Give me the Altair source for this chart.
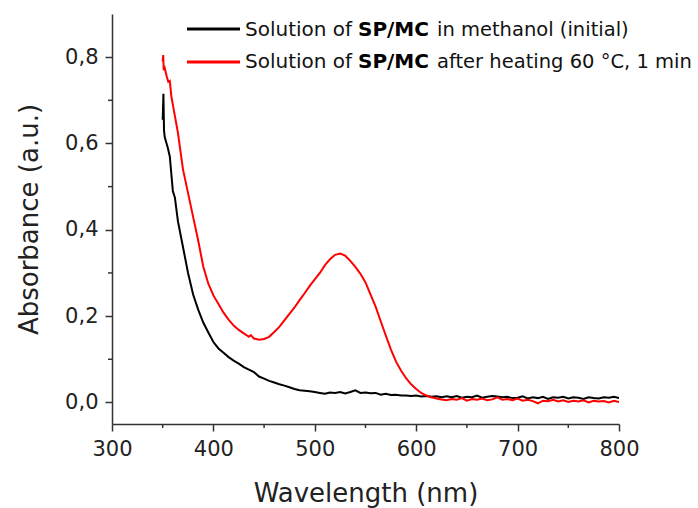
import altair as alt
import pandas as pd

# ---- data ----
black_x = [350.0, 350.7, 351.3, 352, 355, 357, 360, 362, 365, 370, 375, 380, 385, 390, 395, 400,
           405, 410, 415, 420, 425, 430, 435, 440, 445, 450, 455, 460, 465, 470, 475, 480, 485,
           490, 495, 500, 505, 510, 515, 520, 525, 530, 535, 540, 545, 550, 555, 560, 565, 570,
           575, 580, 585, 590, 595, 600, 605, 610, 615, 620, 625, 630, 635, 640, 645, 650, 655,
           660, 665, 670, 675, 680, 685, 690, 695, 700, 705, 710, 715, 720, 725, 730, 735, 740,
           745, 750, 755, 760, 765, 770, 775, 780, 785, 790, 795, 800]
black_y = [0.655, 0.715, 0.630, 0.615, 0.590, 0.570, 0.490, 0.475, 0.420, 0.360, 0.300, 0.250,
           0.215, 0.185, 0.162, 0.140, 0.125, 0.115, 0.105, 0.097, 0.090, 0.082, 0.076, 0.070,
           0.060, 0.055, 0.050, 0.046, 0.042, 0.039, 0.035, 0.031, 0.028, 0.027, 0.026, 0.024,
           0.022, 0.020, 0.023, 0.022, 0.024, 0.021, 0.024, 0.028, 0.022, 0.023, 0.021, 0.022,
           0.018, 0.020, 0.017, 0.018, 0.016, 0.016, 0.015, 0.016, 0.014, 0.015, 0.013, 0.014,
           0.012, 0.014, 0.012, 0.015, 0.011, 0.013, 0.012, 0.016, 0.011, 0.013, 0.015, 0.014,
           0.012, 0.013, 0.010, 0.011, 0.014, 0.009, 0.012, 0.010, 0.013, 0.008, 0.012, 0.011,
           0.013, 0.009, 0.012, 0.011, 0.008, 0.012, 0.010, 0.009, 0.012, 0.011, 0.013, 0.010]

red_x = [350.0, 350.5, 351, 352, 354, 355.5, 357, 358.5, 360, 365, 370, 375, 380, 385, 390, 395,
         400, 405, 410, 415, 420, 425, 430, 435, 437, 440, 445, 450, 455, 460, 465, 470, 475,
         480, 485, 490, 495, 500, 505, 510, 515, 520, 525, 530, 535, 540, 545, 550, 555, 560,
         565, 570, 575, 580, 585, 590, 595, 600, 605, 610, 615, 620, 625, 630, 635, 640, 645,
         650, 655, 660, 665, 670, 675, 680, 685, 690, 695, 700, 705, 710, 715, 720, 725, 730,
         735, 740, 745, 750, 755, 760, 765, 770, 775, 780, 785, 790, 795, 800]
red_y = [0.790, 0.805, 0.770, 0.775, 0.755, 0.743, 0.745, 0.710, 0.690, 0.625, 0.540, 0.485,
         0.430, 0.375, 0.315, 0.275, 0.248, 0.228, 0.208, 0.192, 0.178, 0.168, 0.160, 0.152,
         0.156, 0.148, 0.145, 0.147, 0.152, 0.163, 0.175, 0.190, 0.205, 0.220, 0.237, 0.253,
         0.270, 0.285, 0.300, 0.318, 0.332, 0.342, 0.345, 0.340, 0.328, 0.314, 0.298, 0.278,
         0.250, 0.222, 0.188, 0.155, 0.123, 0.095, 0.074, 0.056, 0.042, 0.031, 0.022, 0.016,
         0.012, 0.009, 0.007, 0.005, 0.008, 0.006, 0.010, 0.004, 0.008, 0.006, 0.009, 0.005,
         0.007, 0.012, 0.006, 0.008, 0.005, 0.009, 0.004, 0.006, 0.003, -0.002, 0.004, 0.003,
         0.006, 0.002, 0.005, 0.001, 0.004, 0.002, 0.005, 0.000, 0.004, 0.002, 0.003, 0.000,
         0.004, 0.001]

series_names = ["initial", "heated"]
series_colors = ["#000000", "#ff0000"]
x_ticks = [300, 400, 500, 600, 700, 800]
x_minor = [350, 450, 550, 650, 750]
y_ticks = [0.0, 0.2, 0.4, 0.6, 0.8]
y_minor = [0.1, 0.3, 0.5, 0.7]

FONT = "DejaVu Sans"
W, H = 507, 410

df = pd.concat([
    pd.DataFrame({"wl": black_x, "abs": black_y, "s": series_names[0], "o": range(len(black_x))}),
    pd.DataFrame({"wl": red_x, "abs": red_y, "s": series_names[1], "o": range(len(red_x))}),
])

xscale = alt.Scale(domain=[300, 800], nice=False, zero=False)
yscale = alt.Scale(domain=[-0.05, 0.9], nice=False, zero=False)

x_axis = alt.Axis(title="Wavelength (nm)", values=x_ticks, grid=False, labelFlush=False,
                  tickSize=7, labelPadding=7, titlePadding=21)
y_axis = alt.Axis(title="Absorbance (a.u.)", values=y_ticks, grid=False, labelFlush=False,
                  tickSize=7, labelPadding=7, titlePadding=22,
                  labelExpr="replace(format(datum.value, '.1f'), '.', ',')")

lines = alt.Chart(df).mark_line(strokeWidth=2, clip=True).encode(
    x=alt.X("wl:Q", scale=xscale, axis=x_axis),
    y=alt.Y("abs:Q", scale=yscale, axis=y_axis),
    color=alt.Color("s:N", scale=alt.Scale(domain=series_names, range=series_colors), legend=None),
    order="o:Q",
)

minor_x = alt.Chart(pd.DataFrame({"v": x_minor})).mark_rule(color="#333333", strokeWidth=1.5).encode(
    x=alt.X("v:Q", scale=xscale, axis=x_axis),
    y=alt.value(H), y2=alt.value(H + 4),
)
minor_y = alt.Chart(pd.DataFrame({"v": y_minor})).mark_rule(color="#333333", strokeWidth=1.5).encode(
    y=alt.Y("v:Q", scale=yscale, axis=y_axis),
    x=alt.value(0), x2=alt.value(-4),
)

one = pd.DataFrame({"k": [0]})
legend_layers = []
rows = [
    (series_colors[0], 15, 22, "in methanol (initial)"),
    (series_colors[1], 48, 54, "after heating 60 °C, 1 min"),
]
for col, ly, ty, tail in rows:
    legend_layers.append(alt.Chart(one).mark_rule(color=col, strokeWidth=3).encode(
        x=alt.value(75), x2=alt.value(128), y=alt.value(ly)))
    legend_layers.append(alt.Chart(one).mark_text(align="left", baseline="alphabetic", font=FONT,
                                                  fontSize=20, color="#111111").encode(
        x=alt.value(133), y=alt.value(ty), text=alt.value("Solution of")))
    legend_layers.append(alt.Chart(one).mark_text(align="left", baseline="alphabetic", font=FONT,
                                                  fontSize=20, fontWeight="bold", color="#000000").encode(
        x=alt.value(246), y=alt.value(ty), text=alt.value("SP/MC")))
    legend_layers.append(alt.Chart(one).mark_text(align="left", baseline="alphabetic", font=FONT,
                                                  fontSize=19.5, color="#111111").encode(
        x=alt.value(325), y=alt.value(ty), text=alt.value(tail)))

chart = alt.layer(lines, minor_x, minor_y, *legend_layers).properties(
    width=W, height=H,
    autosize=alt.AutoSizeParams(type="none"),
    padding={"left": 112, "top": 14, "right": 79, "bottom": 84},
    background="white",
).configure_view(stroke=None).configure_axis(
    domainColor="#333333", domainWidth=1.5, tickColor="#333333", tickWidth=1.5,
    labelFont=FONT, labelFontSize=21, labelColor="#222222",
    titleFont=FONT, titleFontSize=26, titleFontWeight="normal", titleColor="#222222",
)

chart.save("out.html", embed_options={"renderer": "svg", "actions": False})
